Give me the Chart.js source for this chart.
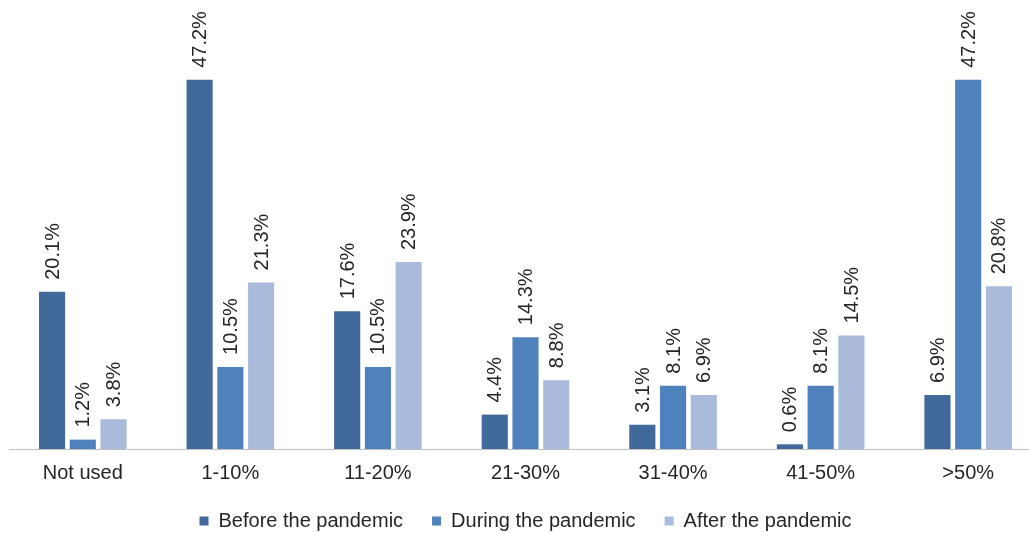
<!DOCTYPE html>
<html>
<head>
<meta charset="utf-8">
<script src="https://cdn.jsdelivr.net/npm/chart.js@4/dist/chart.umd.min.js"></script>
<style>
  html, body { margin: 0; padding: 0; background: #ffffff; overflow: hidden; }
  #wrap { width: 1029px; height: 533px; overflow: hidden; }
  canvas { display: block; }
</style>
</head>
<body>
<div id="wrap"><canvas id="chart" width="1051" height="545" style="width:1051px;height:545px"></canvas></div>
<script>
// Share of use, by period
const categories = ['Not used', '1-10%', '11-20%', '21-30%', '31-40%', '41-50%', '>50%'];
const seriesNames = ['Before the pandemic', 'During the pandemic', 'After the pandemic'];
const beforeValues = [20.1, 47.2, 17.6, 4.4, 3.1, 0.6, 6.9];
const duringValues = [1.2, 10.5, 10.5, 14.3, 8.1, 8.1, 47.2];
const afterValues = [3.8, 21.3, 23.9, 8.8, 6.9, 14.5, 20.8];
const seriesColors = ['#41699B', '#4F81BD', '#A9BADB'];

const FONT = '"Liberation Sans", Arial, sans-serif';
const TEXT = '#262626';

// Rotated percentage labels above each bar
const valueLabels = {
  id: 'valueLabels',
  afterDatasetsDraw(chart) {
    const ctx = chart.ctx;
    ctx.save();
    ctx.font = '20px ' + FONT;
    ctx.fillStyle = TEXT;
    ctx.textAlign = 'left';
    ctx.textBaseline = 'middle';
    chart.data.datasets.forEach((ds, di) => {
      const meta = chart.getDatasetMeta(di);
      meta.data.forEach((bar, i) => {
        const v = ds.data[i];
        ctx.save();
        ctx.translate(bar.x + 1, bar.y - 12);
        ctx.rotate(-Math.PI / 2);
        ctx.fillText(v.toFixed(1) + '%', 0, 0);
        ctx.restore();
      });
    });
    ctx.restore();
  }
};

new Chart(document.getElementById('chart'), {
  type: 'bar',
  data: {
    labels: categories,
    datasets: [
      { label: seriesNames[0], data: beforeValues, backgroundColor: seriesColors[0] },
      { label: seriesNames[1], data: duringValues, backgroundColor: seriesColors[1] },
      { label: seriesNames[2], data: afterValues, backgroundColor: seriesColors[2] }
    ]
  },
  options: {
    responsive: false,
    animation: false,
    devicePixelRatio: 1,
    datasets: {
      bar: { categoryPercentage: 0.625, barPercentage: 0.85, borderWidth: 0 }
    },
    layout: { padding: { left: 9, right: 9, top: 11, bottom: 4 } },
    scales: {
      x: {
        grid: { display: false, drawTicks: false },
        border: { display: true, color: '#BFBFBF', width: 1 },
        ticks: { color: TEXT, font: { family: FONT, size: 20 }, padding: 12, maxRotation: 0 },
        afterFit(scale) { scale.height = 33; }
      },
      y: {
        display: false,
        min: 0,
        max: 56
      }
    },
    plugins: {
      legend: {
        position: 'bottom',
        labels: {
          color: TEXT,
          font: { family: FONT, size: 20 },
          boxWidth: 9,
          boxHeight: 9,
          padding: 29
        }
      },
      tooltip: { enabled: false }
    }
  },
  plugins: [valueLabels]
});
</script>
</body>
</html>
